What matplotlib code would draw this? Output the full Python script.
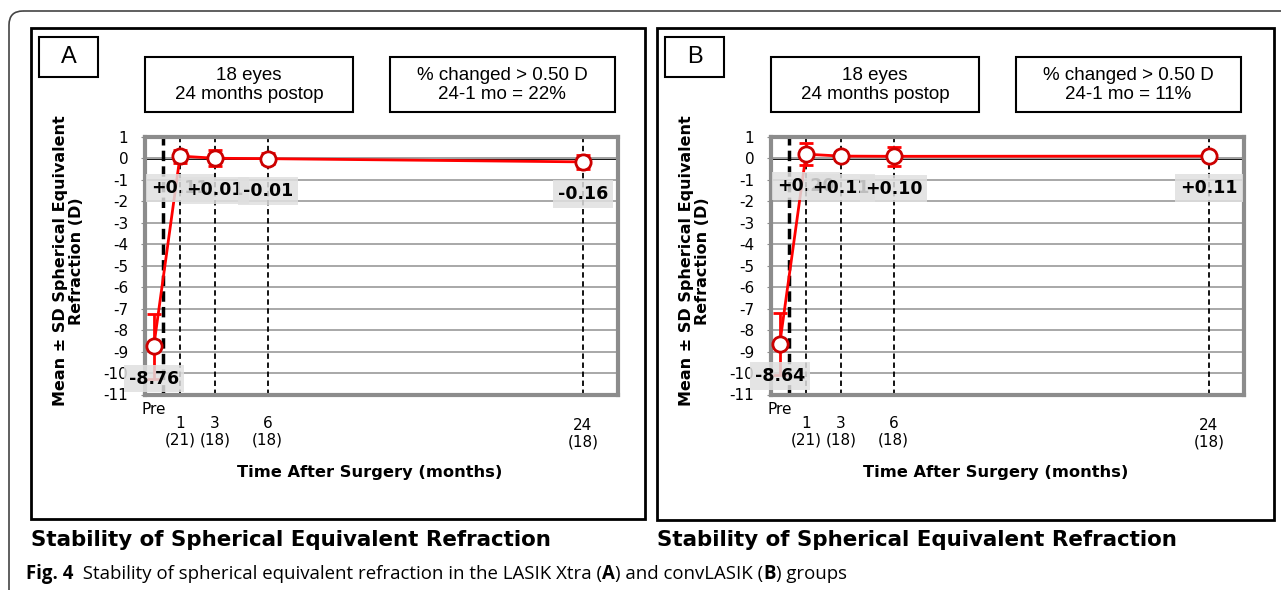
import matplotlib.pyplot as plt
from matplotlib.patches import Rectangle, FancyBboxPatch
from matplotlib.transforms import blended_transform_factory

plt.rcParams['axes.unicode_minus'] = False

# data
months = [-0.5, 1, 3, 6, 24]
tick_top = ['Pre', '1', '3', '6', '24']
tick_n = ['', '(21)', '(18)', '(18)', '(18)']
dash_x = [0, 1, 3, 6, 24]

mean_a = [-8.76, 0.11, 0.01, -0.01, -0.16]
sd_a = [1.52, 0.30, 0.38, 0.25, 0.31]
mean_b = [-8.64, 0.20, 0.11, 0.10, 0.11]
sd_b = [1.44, 0.50, 0.20, 0.45, 0.15]

letters = ['A', 'B']
pct = ['22%', '11%']

W, H = 1281, 590
fig = plt.figure(figsize=(W / 100, H / 100), dpi=100)
bg = fig.add_axes([0, 0, 1, 1])
bg.set_xlim(0, W)
bg.set_ylim(H, 0)
bg.axis('off')

arial = ['Liberation Sans', 'DejaVu Sans']


def rect(x0, y0, x1, y1, lw=1.5):
    bg.add_patch(Rectangle((x0, y0), x1 - x0, y1 - y0, fill=False, lw=lw, ec='black'))


# outer rounded frame (only top and left edges visible)
bg.add_patch(FancyBboxPatch((9, 11), 1400, 700, boxstyle='round,pad=0,rounding_size=14',
                            fill=False, ec='#444444', lw=1.2))


def panel(dx, frame_r, frame_b, letter, mean, sd, p):
    rect(31 + dx, 28, frame_r, frame_b, lw=2)
    rect(39 + dx, 37, 98 + dx, 77, lw=1.5)
    bg.text(68.5 + dx, 57, letter, ha='center', va='center', fontsize=17, family=arial)
    rect(145 + dx, 57, 353 + dx, 112, lw=1.5)
    bg.text(249 + dx, 85, '18 eyes\n24 months postop', ha='center', va='center',
            fontsize=13.5, family=arial, linespacing=1.15)
    rect(390 + dx, 57, 615 + dx, 112, lw=1.5)
    bg.text(502 + dx, 85, '% changed > 0.50 D\n24-1 mo = ' + p, ha='center', va='center',
            fontsize=13.5, family=arial, linespacing=1.15)

    x0, x1, y0, y1 = 145 + dx, 618 + dx, 137, 394.5
    ax = fig.add_axes([x0 / W, 1 - y1 / H, (x1 - x0) / W, (y1 - y0) / H])
    ax.set_xlim(-1, 26)
    ax.set_ylim(-11, 1)
    ax.set_yticks(range(-11, 2))
    ax.set_yticklabels([str(v) for v in range(-11, 2)], fontsize=11)
    ax.set_xticks([])
    ax.tick_params(axis='y', length=3, color='#8c8c8c', pad=9)
    ax.grid(axis='y', color='#a8a8a8', lw=1.4, zorder=0)
    for s in ax.spines.values():
        s.set_color('#8c8c8c')
        s.set_linewidth(3)
    ax.axhline(0, color='black', lw=2, zorder=1)
    for m in dash_x:
        if m == 0:
            ax.axvline(m, color='black', ls=(0, (3, 1.5)), lw=2.5, zorder=2)
        else:
            ax.axvline(m, color='black', ls=(0, (3, 2)), lw=1.3, zorder=2)

    ax.plot(months, mean, color='red', lw=2, zorder=3)
    ax.errorbar(months, mean, yerr=sd, fmt='none', ecolor='red', elinewidth=2,
                capsize=5, capthick=2, zorder=3)
    ax.plot(months, mean, 'o', ms=11, mfc='white', mec='#cc0000', mew=2, zorder=4,
            clip_on=False)

    for i, (m, v) in enumerate(zip(months, mean)):
        ax.text(m, v - 1.5, f'{v:+.2f}', ha='center', va='center', fontsize=12.5,
                fontweight='bold', zorder=5 + i,
                bbox=dict(boxstyle='square,pad=0.28', fc='#e0e0e0', ec='none', alpha=0.85))

    tr = blended_transform_factory(ax.transData, bg.transData)
    for m, t, n in zip(months, tick_top, tick_n):
        if t == 'Pre':
            bg.text(m, 410, t, transform=tr, ha='center', va='center', fontsize=11)
        elif t == '24':
            bg.text(m, 434, t + '\n' + n, transform=tr, ha='center', va='center',
                    fontsize=11, linespacing=1.15)
        else:
            bg.text(m, 432, t + '\n' + n, transform=tr, ha='center', va='center',
                    fontsize=11, linespacing=1.15)

    bg.text(370 + dx, 473, 'Time After Surgery (months)', ha='center', va='center',
            fontsize=11.7, fontweight='bold')
    bg.text(68.5 + dx, 261, 'Mean ± SD Spherical Equivalent\nRefraction (D)', rotation=90,
            ha='center', va='center', fontsize=11.5, fontweight='bold',
            multialignment='center', linespacing=1.1)
    bg.text(31 + dx, 540, 'Stability of Spherical Equivalent Refraction', ha='left',
            va='center', fontsize=15.4, fontweight='bold')


panel(0, 645, 519, letters[0], mean_a, sd_a, pct[0])
panel(626, 1274, 520, letters[1], mean_b, sd_b, pct[1])

# caption, drawn piece by piece so the bold parts line up
pieces = [('Fig. 4', 'bold'), ('  Stability of spherical equivalent refraction in the LASIK Xtra (', 'normal'),
          ('A', 'bold'), (') and convLASIK (', 'normal'), ('B', 'bold'), (') groups', 'normal')]
renderer = fig.canvas.get_renderer()
x = 26
for s, w in pieces:
    t = bg.text(x, 574, s, ha='left', va='center', fontsize=13.4, fontweight=w,
                family=['Open Sans', 'DejaVu Sans'])
    x += t.get_window_extent(renderer=renderer).width

fig.savefig('out.png', dpi=100)
